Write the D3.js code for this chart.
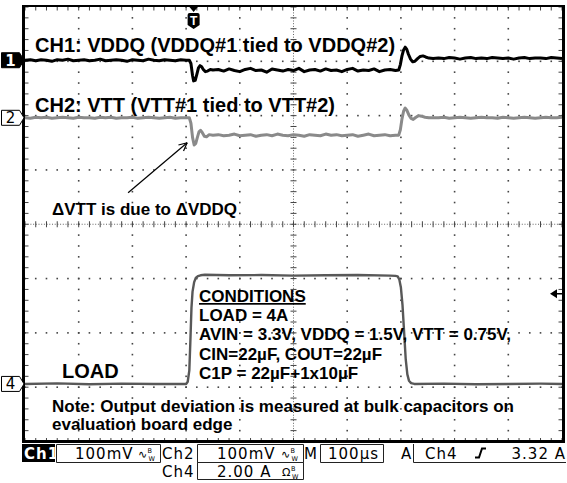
<!DOCTYPE html>
<html><head><meta charset="utf-8">
<script src="https://cdn.jsdelivr.net/npm/d3@7"></script>
<style>
html,body{margin:0;padding:0;background:#fff;}
svg{display:block;}
</style></head><body>
<svg id="scope" width="567" height="483"></svg>
<script>
// ---- Acquisition: 100 µs/div horizontal, 10 x 8 divisions ----
const timeSpan = [0, 1000];          // µs across the screen
const trigTime = 314;                // µs, trigger point marker
const trigLevel = 3.32;              // A on Ch4

// Channel settings: screen position (div) and volts/amps per division
const ch1Pos = 3.02, ch1Scale = 100;   // mV/div
const ch2Pos = 1.96, ch2Scale = 100;   // mV/div
const ch4Pos = -2.94, ch4Scale = 2;    // A/div

// CH1: VDDQ deviation (mV)
const ch1Time = [0,10,20,30,40,50,60,70,80,90,100,110,120,130,140,150,160,170,180,190,200,210,220,230,240,250,260,270,280,290,300,
  306,309,312,314,317,320,323,326,329,332,336,340,345,350,
  360,370,380,390,400,410,420,430,440,450,460,470,480,490,500,510,520,530,540,550,560,570,580,590,600,610,620,630,640,650,660,670,680,690,
  696,699,702,705,708,711,714,718,722,726,731,736,741,746,752,760,
  770,780,790,800,810,820,830,840,850,860,870,880,890,900,910,920,930,940,950,960,970,980,990,1000];
const ch1Value = [0,1,-1,1,0,-2,1,0,2,-1,0,1,-1,0,2,-1,0,1,0,-2,1,0,-1,2,0,-1,1,0,-1,1,0,
  0,-6,-28,-38,-37,-26,-14,-10,-12,-17,-21,-20,-17,-18,
  -17,-20,-16,-19,-21,-17,-15,-19,-18,-22,-16,-18,-20,-17,-19,-15,-21,-18,-17,-20,-16,-19,-18,-21,-17,-15,-20,-18,-19,-16,-21,-18,-17,-19,
  -18,-8,8,19,24,20,11,2,-3,-2,3,7,8,6,4,3,
  4,3,5,4,2,4,5,3,4,3,5,4,3,4,2,4,5,3,4,4,3,5,4,3];

// CH2: VTT deviation (mV)
const ch2Time = [0,10,20,30,40,50,60,70,80,90,100,110,120,130,140,150,160,170,180,190,200,210,220,230,240,250,260,270,280,290,300,
  306,309,312,315,318,321,324,327,330,334,338,343,350,
  360,370,380,390,400,410,420,430,440,450,460,470,480,490,500,510,520,530,540,550,560,570,580,590,600,610,620,630,640,650,660,670,680,690,
  696,699,702,705,708,711,715,719,723,728,733,738,745,752,760,
  770,780,790,800,810,820,830,840,850,860,870,880,890,900,910,920,930,940,950,960,970,980,990,1000];
const ch2Value = [0,-1,1,0,1,-1,0,1,0,-1,1,0,0,-1,1,0,1,-1,0,0,1,-1,0,1,0,-1,0,1,-1,0,0,
  0,-10,-36,-50,-47,-36,-26,-23,-27,-34,-35,-31,-32,
  -31,-33,-32,-30,-33,-32,-31,-34,-32,-31,-33,-30,-32,-33,-31,-32,-34,-31,-32,-33,-30,-32,-31,-33,-32,-31,-34,-32,-30,-33,-32,-31,-33,-32,
  -32,-22,-2,12,18,14,5,-1,-3,1,4,3,1,0,0,
  0,1,-1,0,1,0,-1,0,1,0,0,-1,1,0,-1,0,1,0,-1,0,1,0,0,1];

// CH4: load current (A)
const loadTime = [0,60,120,180,240,300,303,306,308,310,312,315,318,322,327,335,
  380,440,500,560,620,680,690,694,697,700,703,706,709,712,715,719,725,780,840,900,960,1000];
const loadValue = [0,0.02,-0.01,0.01,0,0,0.08,0.5,1.6,2.8,3.4,3.75,3.9,3.97,4.0,4.02,
  4.0,4.01,3.99,4.0,4.01,3.99,3.98,3.96,3.85,3.55,2.9,1.9,0.9,0.35,0.12,0.03,0,0.01,-0.01,0,0.01,0];

// Readout texts
const titleCh1 = "CH1: VDDQ (VDDQ#1 tied to VDDQ#2)";
const titleCh2 = "CH2: VTT (VTT#1 tied to VTT#2)";
const noteDelta = "\u0394VTT is due to \u0394VDDQ";
const conditionLines = ["LOAD = 4A", "AVIN = 3.3V, VDDQ = 1.5V, VTT = 0.75V,", "CIN=22\u00b5F, COUT=22\u00b5F", "C1P = 22\u00b5F+1x10\u00b5F"];
const noteLines = ["Note: Output deviation is measured at bulk capacitors on", "evaluation board edge"];
const readCh1 = "100mV", readCh2 = "100mV", readCh4 = "2.00 A", readTime = "100\u00b5s", readTrig = "3.32 A";

// ---- Scales ----
const svg = d3.select("#scope");
const x = d3.scaleLinear().domain(timeSpan).range([25, 562]);
const y = d3.scaleLinear().domain([-4, 4]).range([441.5, 7]);
const yCh1 = v => y(ch1Pos + v / ch1Scale);
const yCh2 = v => y(ch2Pos + v / ch2Scale);
const yCh4 = v => y(ch4Pos + v / ch4Scale);

// ---- Graticule ----
const g = svg.append("g");
const minorX = x.ticks(50), minorY = y.ticks(40);
const majorX = x.ticks(10), majorY = y.ticks(8);
const dotCol = "#444";
majorX.filter(t => t > 0 && t < 1000 && t !== 500).forEach(t => {
  g.selectAll(null).data(minorY).enter().append("rect")
    .attr("x", x(t) - 0.8).attr("y", d => y(d) - 0.8).attr("width", 1.6).attr("height", 1.6).attr("fill", dotCol);
});
majorY.filter(v => v > -4 && v < 4 && v !== 0).forEach(v => {
  g.selectAll(null).data(minorX).enter().append("rect")
    .attr("x", d => x(d) - 0.8).attr("y", y(v) - 0.8).attr("width", 1.6).attr("height", 1.6).attr("fill", dotCol);
});
// centre cross-hair with fine dots and minor ticks
g.append("line").attr("x1", x(0)).attr("x2", x(1000)).attr("y1", y(0)).attr("y2", y(0))
  .attr("stroke", "#666").attr("stroke-width", 1).attr("stroke-dasharray", "1,1.7");
g.append("line").attr("x1", x(500)).attr("x2", x(500)).attr("y1", y(4)).attr("y2", y(-4))
  .attr("stroke", "#666").attr("stroke-width", 1).attr("stroke-dasharray", "1,1.7");
g.selectAll(null).data(minorX).enter().append("line")
  .attr("x1", d => x(d)).attr("x2", d => x(d)).attr("y1", y(0) - 3).attr("y2", y(0) + 3)
  .attr("stroke", "#444").attr("stroke-width", 1);
g.selectAll(null).data(minorY).enter().append("line")
  .attr("y1", d => y(d)).attr("y2", d => y(d)).attr("x1", x(500) - 3).attr("x2", x(500) + 3)
  .attr("stroke", "#444").attr("stroke-width", 1);
// edge ticks
g.selectAll(null).data(minorX).enter().append("line")
  .attr("x1", d => x(d)).attr("x2", d => x(d)).attr("y1", y(4)).attr("y2", y(4) + 3.5)
  .attr("stroke", "#444").attr("stroke-width", 1);
g.selectAll(null).data(minorX).enter().append("line")
  .attr("x1", d => x(d)).attr("x2", d => x(d)).attr("y1", y(-4)).attr("y2", y(-4) - 3.5)
  .attr("stroke", "#444").attr("stroke-width", 1);
g.selectAll(null).data(minorY).enter().append("line")
  .attr("y1", d => y(d)).attr("y2", d => y(d)).attr("x1", x(0)).attr("x2", x(0) + 3.5)
  .attr("stroke", "#444").attr("stroke-width", 1);
g.selectAll(null).data(minorY).enter().append("line")
  .attr("y1", d => y(d)).attr("y2", d => y(d)).attr("x1", x(1000)).attr("x2", x(1000) - 3.5)
  .attr("stroke", "#444").attr("stroke-width", 1);

// frame
g.append("line").attr("x1", 22).attr("x2", 565).attr("y1", 6).attr("y2", 6).attr("stroke", "#000").attr("stroke-width", 2);
g.append("line").attr("x1", 22).attr("x2", 565).attr("y1", 441.5).attr("y2", 441.5).attr("stroke", "#000").attr("stroke-width", 3);
g.append("line").attr("x1", 23.5).attr("x2", 23.5).attr("y1", 5).attr("y2", 443).attr("stroke", "#000").attr("stroke-width", 3);
g.append("line").attr("x1", 563.5).attr("x2", 563.5).attr("y1", 5).attr("y2", 443).attr("stroke", "#000").attr("stroke-width", 3);

// ---- Waveforms ----
const line = (ts, vs, fy) => d3.line().x((d, i) => x(ts[i])).y(d => fy(d))(vs);
svg.append("path").attr("d", line(loadTime, loadValue, yCh4))
  .attr("fill", "none").attr("stroke", "#585858").attr("stroke-width", 2.4).attr("stroke-linejoin", "round");
svg.append("path").attr("d", line(ch2Time, ch2Value, yCh2))
  .attr("fill", "none").attr("stroke", "#8a8a8a").attr("stroke-width", 3).attr("stroke-linejoin", "round");
svg.append("path").attr("d", line(ch1Time, ch1Value, yCh1))
  .attr("fill", "none").attr("stroke", "#000").attr("stroke-width", 3).attr("stroke-linejoin", "round");

// ---- Channel ground markers ----
function marker(cy, label, filled) {
  const m = svg.append("g");
  m.append("path")
    .attr("d", `M1.5,${cy - 7.5}H19.5L24,${cy}L19.5,${cy + 7.5}H1.5Z`)
    .attr("fill", filled ? "#000" : "#fff").attr("stroke", "#000").attr("stroke-width", 1);
  m.append("text").attr("x", 10.5).attr("y", cy + 5.5).attr("text-anchor", "middle")
    .attr("font-family", "DejaVu Sans, sans-serif").attr("font-size", 15).attr("font-weight", filled ? "bold" : "normal")
    .attr("fill", filled ? "#fff" : "#000").text(label);
}
marker(yCh1(0), "1", true);
marker(yCh2(0), "2", false);
marker(yCh4(0), "4", false);

// trigger position marker
const tx = x(trigTime);
svg.append("path").attr("d", `M${tx - 5},6L${tx + 5},6L${tx},12Z`).attr("fill", "#000");
svg.append("path").attr("d", `M${tx - 6},15Q${tx - 6},13 ${tx - 4},13H${tx + 4}Q${tx + 6},13 ${tx + 6},15V25L${tx},29L${tx - 6},25Z`).attr("fill", "#000");
svg.append("text").attr("x", tx).attr("y", 25).attr("text-anchor", "middle")
  .attr("font-family", "Liberation Sans, Arial, sans-serif").attr("font-weight", "bold").attr("font-size", 12)
  .attr("fill", "#fff").text("T");

// trigger level marker on the right edge
const ty = yCh4(trigLevel);
svg.append("path").attr("d", `M550,${ty}L557,${ty - 4.5}L557,${ty + 4.5}Z`).attr("fill", "#000");
svg.append("line").attr("x1", 556).attr("x2", 562).attr("y1", ty).attr("y2", ty).attr("stroke", "#000").attr("stroke-width", 1.5);

// ---- Annotations ----
const ann = svg.append("g").attr("font-family", "Liberation Sans, Arial, Helvetica, sans-serif").attr("font-weight", "bold").attr("fill", "#000");
ann.append("text").attr("x", 35).attr("y", 52).attr("font-size", 20).text(titleCh1);
ann.append("text").attr("x", 35).attr("y", 112).attr("font-size", 20).text(titleCh2);
ann.append("text").attr("x", 52).attr("y", 215).attr("font-size", 17).text(noteDelta);

// arrow pointing at the VTT dip
const a0 = [x(192), y(0.58)], a1 = [x(302), y(1.5)];
ann.append("line").attr("x1", a0[0]).attr("y1", a0[1]).attr("x2", a1[0]).attr("y2", a1[1]).attr("stroke", "#000").attr("stroke-width", 1.2);
const ang = Math.atan2(a1[1] - a0[1], a1[0] - a0[0]);
[0.45, -0.45].forEach(da => {
  ann.append("line").attr("x1", a1[0]).attr("y1", a1[1])
    .attr("x2", a1[0] - 9 * Math.cos(ang + da)).attr("y2", a1[1] - 9 * Math.sin(ang + da))
    .attr("stroke", "#000").attr("stroke-width", 1.2);
});

ann.append("text").attr("x", 199).attr("y", 302).attr("font-size", 17).attr("text-decoration", "underline").text("CONDITIONS");
conditionLines.forEach((s, i) => {
  ann.append("text").attr("x", 199).attr("y", 321 + i * 19.3).attr("font-size", 17).text(s);
});
ann.append("text").attr("x", 62).attr("y", 378).attr("font-size", 20).text("LOAD");
noteLines.forEach((s, i) => {
  ann.append("text").attr("x", 52).attr("y", 412 + i * 18).attr("font-size", 17).text(s);
});

// ---- Readout bar ----
const rb = svg.append("g").attr("font-family", "DejaVu Sans, Verdana, sans-serif").attr("font-size", 15).attr("letter-spacing", 1);
function box(x0, y0, w, h, sides) {
  rb.append("path").attr("d", sides || `M${x0},${y0}H${x0 + w}V${y0 + h}H${x0}Z`)
    .attr("fill", "none").attr("stroke", "#222").attr("stroke-width", 1);
}
// coupling symbol with bandwidth-limit flag (B stacked over W)
function bw(x0, yb, sym, symW) {
  rb.append("text").attr("x", x0).attr("y", yb).attr("font-size", 11).attr("letter-spacing", 0).text(sym);
  rb.append("text").attr("x", x0 + symW).attr("y", yb - 5.5).attr("font-size", 6.5).attr("letter-spacing", 0).text("B");
  rb.append("text").attr("x", x0 + symW + 1).attr("y", yb + 2.5).attr("font-size", 6.5).attr("letter-spacing", 0).text("W");
}
rb.append("rect").attr("x", 22).attr("y", 444).attr("width", 33).attr("height", 18).attr("fill", "#000");
rb.append("text").attr("x", 24).attr("y", 459).attr("fill", "#fff").attr("font-weight", "bold").text("Ch1");
box(56.5, 444.5, 104, 18);
rb.append("text").attr("x", 75).attr("y", 459).text(readCh1);
bw(138, 458, "\u223f", 9.5);
rb.append("text").attr("x", 162).attr("y", 459).text("Ch2");
box(197.5, 444.5, 106, 18);
rb.append("text").attr("x", 217).attr("y", 459).text(readCh2);
bw(281, 458, "\u223f", 9.5);
rb.append("text").attr("x", 304).attr("y", 459).text("M");
box(320.5, 444.5, 63, 18);
rb.append("text").attr("x", 328).attr("y", 459).text(readTime);
rb.append("text").attr("x", 401).attr("y", 459).text("A");
box(0, 0, 0, 0, "M413.5,444V462.5H566");
rb.append("text").attr("x", 425).attr("y", 459).text("Ch4");
rb.append("path").attr("d", "M475,457.5H479L482,448.5H486").attr("fill", "none").attr("stroke", "#000").attr("stroke-width", 2);
rb.append("text").attr("x", 566).attr("y", 459).attr("text-anchor", "end").text(readTrig);
rb.append("text").attr("x", 162).attr("y", 477).text("Ch4");
box(197.5, 462.5, 106, 17);
rb.append("text").attr("x", 217).attr("y", 477).text(readCh4);
bw(282, 476, "\u03a9", 9);
</script>
</body></html>
